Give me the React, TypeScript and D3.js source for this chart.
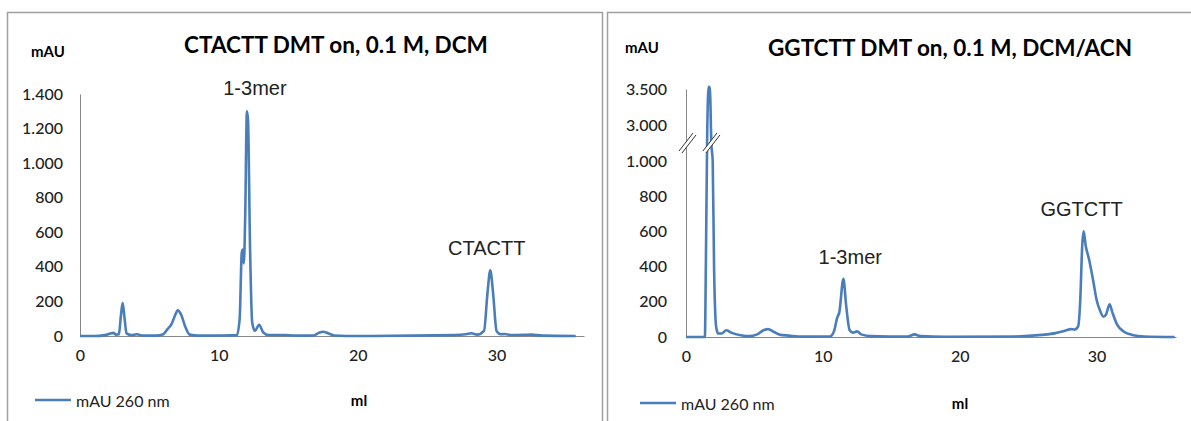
import React from 'react'
import * as d3 from 'd3'

// CTACTT run (DCM)
const ctacttMl = [0, 1.0, 1.8, 2.2, 2.4, 2.6, 2.8, 2.95, 3.07, 3.2, 3.35, 3.7, 4.1, 4.5, 5.5, 6.0, 6.3, 6.6, 6.8, 7.05, 7.3, 7.6, 7.9, 8.5, 10, 11.3, 11.5, 11.65, 11.72, 11.8, 11.9, 12.02, 12.1, 12.25, 12.4, 12.6, 12.9, 13.2, 13.6, 14.7, 15.5, 16.8, 17.2, 17.5, 17.9, 18.3, 20, 27, 27.8, 28.2, 28.6, 29.1, 29.35, 29.55, 29.75, 30.0, 30.3, 30.6, 31.0, 32.0, 32.5, 33.3, 35.7]
const ctacttMau = [0, 0, 5, 15, 18, 8, 10, 120, 190, 110, 15, 5, 10, 3, 2, 10, 40, 70, 110, 148, 120, 50, 8, 2, 3, 5, 100, 480, 500, 420, 700, 1300, 1250, 500, 80, 30, 65, 20, 5, 6, 2, 3, 18, 25, 15, 3, 0, 5, 10, 16, 8, 30, 250, 380, 250, 30, 10, 12, 6, 7, 8, 2, 0]

// GGTCTT run (DCM/ACN)
const ggtcttMl = [0, 1.38, 1.45, 1.55, 1.65, 1.72, 1.77, 1.85, 1.95, 2.05, 2.2, 2.35, 2.6, 2.95, 3.3, 4.0, 4.6, 5.2, 5.7, 6.0, 6.4, 6.9, 7.5, 8.5, 10.5, 10.8, 11.05, 11.2, 11.5, 11.7, 11.95, 12.2, 12.5, 12.8, 13.5, 16.2, 16.7, 17.1, 19, 24, 26, 27, 27.8, 28.1, 28.4, 28.65, 28.8, 28.95, 29.05, 29.2, 29.45, 29.75, 30.0, 30.25, 30.5, 30.7, 30.95, 31.15, 31.5, 32.0, 32.6, 33.5, 35.7]
const ggtcttMau = [0, 0, 400, 2500, 3530, 3520, 3400, 2000, 1000, 400, 60, 20, 20, 38, 25, 10, 5, 15, 40, 45, 30, 12, 8, 2, 3, 30, 110, 140, 330, 180, 40, 25, 32, 15, 5, 2, 15, 5, 1, 3, 12, 22, 38, 45, 42, 60, 200, 520, 600, 520, 440, 320, 210, 150, 115, 130, 186, 140, 70, 30, 12, 3, 0]

const leftYTicks = [0, 200, 400, 600, 800, 1000, 1200, 1400]
const rightYTicks = [0, 200, 400, 600, 800, 1000, 3000, 3500]
const xTicks = [0, 10, 20, 30]

const locale = d3.formatLocale({ decimal: ',', thousands: '.', grouping: [3], currency: ['', ''] })
const fmt = locale.format(',')

const LINE = '#4a7ebb'
const SANS = 'Lato, "Open Sans", sans-serif'
const ARIAL = '"Liberation Sans", Arial, sans-serif'

function drawPanel(svg, cfg) {
  const g = svg.append('g')

  g.append('rect')
    .attr('x', cfg.frame[0] + 0.5)
    .attr('y', 12.5)
    .attr('width', cfg.frame[1] - cfg.frame[0])
    .attr('height', 440)
    .attr('fill', 'white')
    .attr('stroke', '#a0a0a0')
    .attr('stroke-width', 1.5)

  const x = d3.scaleLinear().domain(cfg.xDomain).range(cfg.xRange)
  const y = d3.scaleLinear().domain(cfg.yDomain).range(cfg.yRange)

  g.append('text')
    .attr('x', cfg.titleX).attr('y', cfg.titleY)
    .attr('text-anchor', 'middle').attr('dominant-baseline', 'central')
    .style('font-family', SANS).style('font-weight', 700).style('font-size', '22.5px')
    .text(cfg.title)

  g.append('text')
    .attr('x', cfg.unitX).attr('y', cfg.unitY)
    .attr('dominant-baseline', 'central')
    .style('font-family', SANS).style('font-weight', 700).style('font-size', '15px')
    .text('mAU')

  const yAxis = g.append('g')
    .attr('transform', `translate(${cfg.xRange[0]},0)`)
    .call(d3.axisLeft(y).tickValues(cfg.yTicks).tickFormat(fmt).tickSize(0).tickPadding(cfg.xRange[0] - cfg.labelRight))
  yAxis.select('.domain').attr('stroke', '#868686')
  yAxis.selectAll('text').style('font-family', SANS).style('font-size', '16px').style('font-weight', 500).attr('fill', '#222')

  const xAxis = g.append('g')
    .attr('transform', `translate(0,${cfg.yRange[0]})`)
    .call(d3.axisBottom(x).tickValues(xTicks).tickFormat(d3.format('d')).tickSize(0).tickPadding(14))
  xAxis.select('.domain').attr('stroke', '#868686')
  xAxis.selectAll('text').style('font-family', SANS).style('font-size', '16px').style('font-weight', 500).attr('fill', '#222')

  const line = d3.line()
    .x(d => x(d[0]))
    .y(d => y(d[1]))
    .curve(d3.curveMonotoneX)

  g.append('path')
    .datum(cfg.ml.map((m, i) => [m, cfg.mau[i]]))
    .attr('d', line)
    .attr('fill', 'none')
    .attr('stroke', LINE)
    .attr('stroke-width', 2.6)
    .attr('stroke-linejoin', 'round')

  cfg.labels.forEach(l => {
    g.append('text')
      .attr('x', x(l.ml)).attr('y', y(l.mau))
      .attr('text-anchor', 'middle').attr('dominant-baseline', 'central')
      .style('font-family', ARIAL).style('font-size', '20px').attr('fill', '#222')
      .text(l.text)
  })

  if (cfg.breakAt) {
    const by = y(cfg.breakAt.mau)
    cfg.breakAt.ml.forEach(m => {
      const bx = x(m)
      g.append('polygon')
        .attr('points', [[bx - 7, by + 8], [bx + 7, by - 10], [bx + 10, by - 8], [bx - 4, by + 10]].join(' '))
        .attr('fill', 'white')
      g.append('line').attr('x1', bx - 7).attr('y1', by + 8).attr('x2', bx + 7).attr('y2', by - 10)
        .attr('stroke', '#333').attr('stroke-width', 1)
      g.append('line').attr('x1', bx - 4).attr('y1', by + 10).attr('x2', bx + 10).attr('y2', by - 8)
        .attr('stroke', '#333').attr('stroke-width', 1)
    })
  }

  g.append('line')
    .attr('x1', cfg.legendX).attr('x2', cfg.legendX + 36)
    .attr('y1', cfg.legendY).attr('y2', cfg.legendY)
    .attr('stroke', LINE).attr('stroke-width', 2.6)
  g.append('text')
    .attr('x', cfg.legendX + 41).attr('y', cfg.legendY)
    .attr('dominant-baseline', 'central')
    .style('font-family', SANS).style('font-size', '16px').attr('fill', '#222')
    .text('mAU 260 nm')

  g.append('text')
    .attr('x', cfg.mlX).attr('y', cfg.legendY)
    .attr('text-anchor', 'middle').attr('dominant-baseline', 'central')
    .style('font-family', SANS).style('font-weight', 700).style('font-size', '15px')
    .text('ml')
}

export default function App() {
  const ref = React.useRef(null)

  React.useEffect(() => {
    const svg = d3.select(ref.current)
    svg.selectAll('*').remove()

    drawPanel(svg, {
      frame: [7, 602],
      title: 'CTACTT DMT on, 0.1 M, DCM',
      titleX: 336, titleY: 44,
      unitX: 31, unitY: 51,
      xDomain: [0, 36.3], xRange: [80, 584],
      yDomain: [0, 1400], yRange: [336, 94],
      yTicks: leftYTicks, labelRight: 63,
      ml: ctacttMl, mau: ctacttMau,
      labels: [{ text: '1-3mer', ml: 12.6, mau: 1435 }, { text: 'CTACTT', ml: 29.3, mau: 510 }],
      legendX: 35, legendY: 400, mlX: 359
    })

    drawPanel(svg, {
      frame: [607, 1200],
      title: 'GGTCTT DMT on, 0.1 M, DCM/ACN',
      titleX: 950, titleY: 47,
      unitX: 625, unitY: 47,
      xDomain: [0, 35.8], xRange: [686, 1176],
      yDomain: [0, 1000, 3000, 3500], yRange: [337, 161, 125, 89],
      yTicks: rightYTicks, labelRight: 667,
      ml: ggtcttMl, mau: ggtcttMau,
      labels: [{ text: '1-3mer', ml: 12.0, mau: 455 }, { text: 'GGTCTT', ml: 28.9, mau: 725 }],
      breakAt: { mau: 2000, ml: [0, 1.75] },
      legendX: 640, legendY: 403, mlX: 960
    })
  }, [])

  return (
    <svg ref={ref} width={1191} height={421}
      style={{ position: 'absolute', left: 0, top: 0, background: 'white' }} />
  )
}
